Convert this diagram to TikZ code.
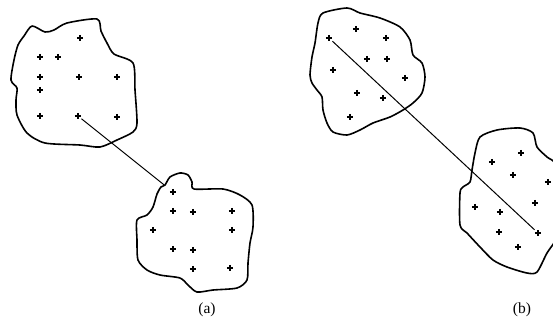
\documentclass[tikz,border=0pt]{standalone}
\usepackage{fontspec}
\setmainfont{Liberation Serif}

\tikzset{
  blob/.style={black,line width=1.6pt,line join=round},
  pt/.style={inner sep=0pt,minimum size=6.5pt,
    path picture={\draw[line width=1.4pt]
      (path picture bounding box.north) -- (path picture bounding box.south)
      (path picture bounding box.west) -- (path picture bounding box.east);}},
  link/.style={black,line width=1pt},
  caption/.style={font=\fontsize{15.5}{18}\selectfont}
}

\begin{document}
\begin{tikzpicture}[x=1pt,y=-1pt]

\useasboundingbox (0,0) rectangle (553,322);
\clip (0,0) rectangle (553,322);

% (a): two clusters, joined through their nearest points
\draw[blob] plot[smooth cycle,tension=0.45] coordinates {(32,26) (45,32) (54,30) (67,23) (97,19) (101,31) (107,43) (114,54) (133,63) (135,90) (137,123) (133,132) (117,140) (100,147) (80,145) (45,143) (27,133) (17,115) (16,100) (17,88) (11,80) (14,60) (18,45) (24,36)};
\draw[blob] plot[smooth cycle,tension=0.45] coordinates {(165,185) (170,177) (180,173) (188,175) (192,182) (194,189) (223,189) (240,195) (252,205) (253,227) (250,243) (248,263) (247,280) (237,288) (213,290) (197,292) (188,285) (180,278) (160,275) (147,270) (138,260) (137,240) (137,220) (147,215) (153,207) (157,194) (161,187)};

\foreach \x/\y [count=\i] in {80/38,40/57,58/57,40/77,79/77,117/77,40/90,40/116,78/116,117/117}
  \node[pt] (a\i) at (\x,\y) {};
\foreach \x/\y [count=\i] in {173/192,173/211,193/212,232/211,153/230,232/230,173/249,193/250,193/269,230/268}
  \node[pt] (c\i) at (\x,\y) {};

\draw[link,shorten >=7pt] (a9) -- (c1);

% (b): two clusters, joined through their farthest points
\draw[blob] plot[smooth cycle,tension=0.45] coordinates {(323,13) (347,8) (360,13) (380,18) (400,27) (410,40) (413,55) (422,63) (425,77) (422,93) (413,103) (403,110) (390,117) (373,123) (360,130) (347,135) (333,132) (327,123) (323,110) (322,97) (317,90) (312,83) (310,75) (312,57) (315,43) (318,23)};
\draw[blob] plot[smooth cycle,tension=0.45] coordinates {(480,137) (497,130) (520,128) (533,133) (537,147) (547,157) (556,165) (562,200) (558,235) (547,253) (537,272) (527,273) (507,267) (493,260) (480,247) (467,233) (460,225) (460,193) (463,187) (470,182) (472,170) (475,153)};

\foreach \x/\y [count=\i] in {329/38,356/29,386/38,367/59,387/59,333/70,405/78,357/93,383/98,350/117}
  \node[pt] (b\i) at (\x,\y) {};
\foreach \x/\y [count=\i] in {521/153,492/162,513/175,548/182,535/203,475/207,500/212,499/232,538/233,518/247}
  \node[pt] (d\i) at (\x,\y) {};

\draw[link] (b1) -- (d9);

% captions
\node[caption] (capa) at (207,310) {(a)};
\node[caption] (capb) at (522,310) {(b)};

\end{tikzpicture}
\end{document}
